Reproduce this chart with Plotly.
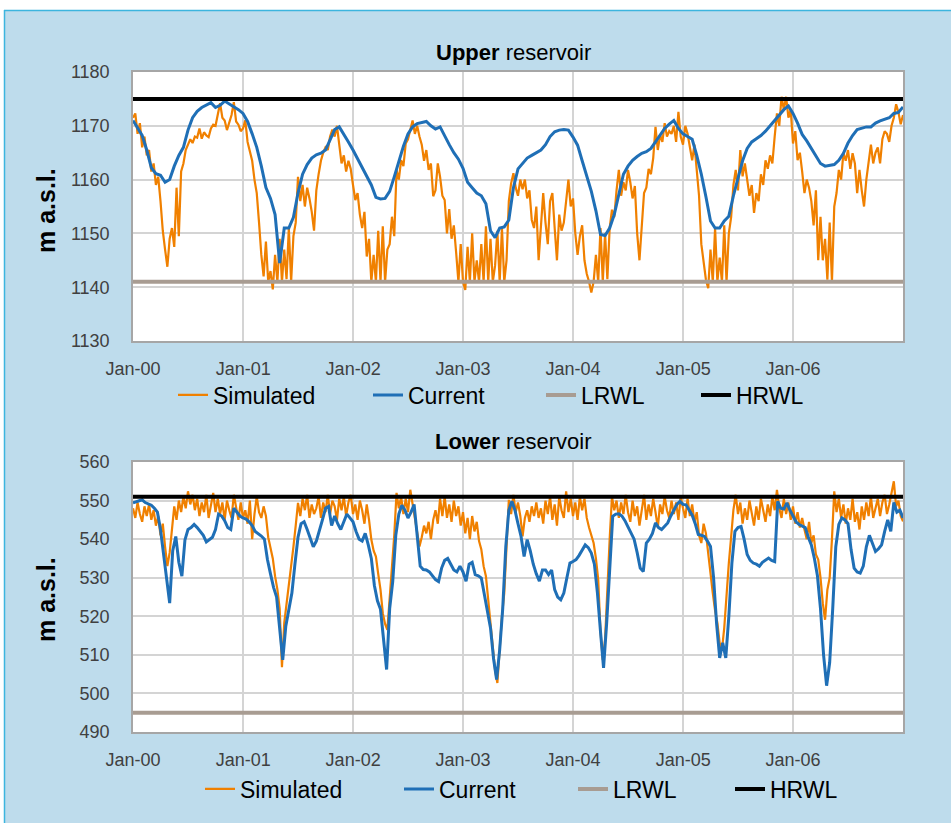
import pandas as pd
import plotly.graph_objects as go

# ---------------- DATA ----------------
years = [2000, 2001, 2002, 2003, 2004, 2005, 2006]
tick_labels = ["Jan-00", "Jan-01", "Jan-02", "Jan-03", "Jan-04", "Jan-05", "Jan-06"]
series_names = ["Simulated", "Current", "LRWL", "HRWL"]

upper_lrwl = 1141.0
upper_hrwl = 1175.0
lower_lrwl = 495.0
lower_hrwl = 551.0

# Upper reservoir, simulated (approx. weekly readings, 4 per month, Jan-2000 .. Jan-2007)
upper_simulated = [
    1171.5, 1172.3, 1168.5, 1170.5, 1166.0, 1168.0, 1164.5, 1165.5,
    1161.5, 1163.0, 1159.0, 1160.5, 1156.0, 1150.5, 1147.0, 1143.8,
    1149.0, 1151.0, 1147.5, 1158.5, 1149.5, 1161.5, 1163.0, 1165.5,
    1166.5, 1167.5, 1166.8, 1168.0, 1167.8, 1169.5, 1167.6, 1168.8,
    1168.2, 1167.9, 1169.5, 1170.2, 1170.0, 1172.0, 1174.2, 1171.5,
    1171.0, 1169.2, 1170.8, 1172.0, 1174.4, 1170.8, 1170.2, 1169.0,
    # 2001
    1169.5, 1171.0, 1167.0, 1165.0, 1163.5, 1160.0, 1157.5, 1152.0,
    1146.0, 1142.0, 1148.5, 1141.0, 1143.0, 1139.6, 1146.0, 1141.0,
    1149.0, 1141.0, 1147.0, 1141.5, 1151.0, 1141.0, 1149.5, 1152.0,
    1160.5, 1156.0, 1159.0, 1155.0, 1158.5, 1156.5, 1154.0, 1150.5,
    1158.0, 1161.0, 1163.5, 1165.0, 1166.0, 1165.5, 1168.0, 1169.3,
    1168.0, 1170.0, 1166.5, 1163.0, 1164.5, 1161.5, 1163.5, 1162.0,
    # 2002
    1159.0, 1156.2, 1157.5, 1153.5, 1151.0, 1154.0, 1145.7, 1149.0,
    1141.0, 1146.0, 1141.0, 1150.5, 1141.0, 1151.3, 1141.0, 1147.0,
    1148.0, 1153.1, 1149.5, 1161.8, 1160.0, 1163.6, 1162.5, 1166.7,
    1167.5, 1169.0, 1171.0, 1168.5, 1170.0, 1168.0, 1166.5, 1163.5,
    1165.5, 1161.8, 1163.0, 1156.9, 1158.0, 1163.0, 1160.5, 1157.0,
    1156.2, 1150.0, 1154.5, 1149.0, 1151.5, 1146.5, 1141.0, 1148.0,
    # 2003
    1141.0, 1139.5, 1147.5, 1141.0, 1150.0, 1141.0, 1145.0, 1141.0,
    1148.0, 1141.0, 1151.3, 1141.0, 1149.0, 1141.0, 1144.0, 1150.5,
    1141.0, 1151.0, 1141.0, 1145.0, 1156.0, 1159.3, 1161.2, 1158.5,
    1157.0, 1160.0, 1158.2, 1160.0, 1156.5, 1158.0, 1152.5, 1151.0,
    1155.0, 1145.0, 1152.0, 1157.5, 1152.0, 1148.0, 1156.0, 1157.5,
    1151.0, 1145.0, 1153.5, 1150.5, 1152.0, 1156.0, 1160.0, 1155.0,
    # 2004
    1156.5, 1150.0, 1146.0, 1149.5, 1151.5, 1145.0, 1142.5, 1141.0,
    1139.0, 1141.0, 1146.0, 1141.0, 1151.0, 1141.0, 1150.0, 1141.5,
    1151.0, 1154.4, 1153.0, 1158.0, 1161.8, 1157.0, 1159.5, 1158.0,
    1161.8, 1159.5, 1156.5, 1158.8, 1150.0, 1145.0, 1151.0, 1157.5,
    1158.5, 1162.0, 1161.0, 1164.0, 1169.8, 1165.5, 1168.3, 1167.0,
    1170.5, 1168.0, 1169.0, 1168.5, 1170.0, 1167.0, 1172.6, 1168.0,
    # 2005
    1166.5, 1170.0, 1168.5, 1166.0, 1163.6, 1166.5, 1161.0, 1157.0,
    1148.0, 1144.5, 1141.4, 1139.8, 1147.0, 1141.0, 1151.0, 1141.0,
    1145.5, 1141.0, 1151.5, 1141.0, 1150.0, 1153.0, 1159.0, 1161.8,
    1158.0, 1165.5, 1160.6, 1163.0, 1160.0, 1157.0, 1159.0, 1153.8,
    1157.5, 1156.0, 1161.0, 1159.0, 1163.6, 1162.0, 1164.5, 1163.0,
    1168.0, 1172.3, 1170.0, 1175.4, 1173.0, 1175.4, 1171.5, 1173.0,
    # 2006
    1166.7, 1169.0, 1163.6, 1165.0, 1161.5, 1157.5, 1160.0, 1158.5,
    1156.0, 1151.5, 1158.0, 1145.0, 1153.1, 1145.0, 1149.0, 1141.4,
    1152.0, 1141.0, 1155.0, 1157.5, 1161.8, 1160.0, 1165.0, 1163.5,
    1165.5, 1162.0, 1164.9, 1163.0, 1157.5, 1161.8, 1158.0, 1155.0,
    1160.0, 1163.6, 1166.5, 1163.0, 1165.0, 1166.0, 1163.0, 1167.5,
    1169.0, 1168.5, 1167.0, 1170.0, 1171.5, 1174.0, 1172.5, 1170.3,
    1172.0,
]

# Upper reservoir, current operation (2 readings per month)
upper_current = [
    1171.0, 1169.5, 1168.2, 1165.5, 1162.2, 1161.1, 1160.8, 1159.5,
    1160.0, 1162.5, 1164.5, 1166.0, 1169.2, 1171.5, 1172.7, 1173.4,
    1173.8, 1174.3, 1173.4, 1173.8, 1174.6, 1174.1, 1173.6, 1173.0,
    # 2001
    1172.3, 1170.8, 1168.5, 1166.0, 1162.5, 1158.5, 1156.5, 1153.5,
    1144.5, 1151.0, 1151.0, 1153.0, 1157.5, 1161.0, 1162.8, 1164.0,
    1164.6, 1164.9, 1165.5, 1167.5, 1169.3, 1169.8, 1168.5, 1167.0,
    # 2002
    1165.5, 1163.8, 1162.2, 1160.5, 1159.0, 1156.7, 1156.4, 1156.5,
    1157.8, 1160.5, 1163.5, 1166.2, 1168.5, 1169.8, 1170.4, 1170.6,
    1170.8, 1170.0, 1169.4, 1169.8, 1168.0, 1166.5, 1165.0, 1163.8,
    # 2003
    1162.1, 1159.5, 1158.5, 1157.5, 1157.0, 1155.5, 1150.5, 1149.2,
    1151.0, 1151.2, 1152.5, 1158.5, 1162.0, 1163.0, 1164.0, 1164.5,
    1165.0, 1165.5, 1166.5, 1168.0, 1168.9, 1169.2, 1169.3, 1169.2,
    # 2004
    1167.9, 1166.4, 1163.5, 1160.5, 1157.8, 1154.2, 1149.8, 1149.6,
    1151.0, 1153.5, 1157.5, 1161.0, 1162.5, 1163.6, 1164.3, 1164.9,
    1165.2, 1165.8, 1167.0, 1168.3, 1169.5, 1170.3, 1171.0, 1169.5,
    # 2005
    1168.5, 1168.0, 1167.5, 1164.5, 1161.0, 1156.8, 1152.3, 1151.0,
    1151.0, 1152.3, 1153.2, 1157.0, 1160.0, 1163.5, 1165.8, 1167.0,
    1167.6, 1168.2, 1169.0, 1170.0, 1171.0, 1172.0, 1173.0, 1173.7,
    # 2006
    1172.3, 1170.5, 1168.4, 1167.2, 1165.8, 1164.3, 1163.0, 1162.5,
    1162.6, 1162.8, 1163.6, 1164.9, 1166.8, 1168.2, 1169.3, 1169.6,
    1169.8, 1169.8, 1170.5, 1170.9, 1171.2, 1171.5, 1172.3, 1172.5,
    1173.5,
]

# Lower reservoir, simulated (4 readings per month)
lower_simulated = [
    548.0, 545.5, 549.5, 546.5, 544.5, 548.5, 546.0, 549.0,
    545.0, 547.5, 543.5, 546.0, 541.0, 544.0, 538.0, 533.0,
    536.5, 542.0, 548.5, 545.0, 550.0, 547.0, 551.0, 548.0,
    552.4, 549.0, 551.5, 547.5, 550.5, 546.0, 549.5, 547.0,
    551.5, 545.5, 549.0, 552.0, 547.0, 550.5, 546.5, 549.5,
    545.0, 550.0, 547.5, 545.5, 551.5, 548.0, 545.0, 549.5,
    # 2001
    545.5, 547.5, 544.0, 550.0, 540.0, 546.5, 551.0, 547.0,
    545.5, 548.5, 546.0, 540.5, 538.0, 535.0, 530.4, 527.0,
    522.0, 506.8, 518.3, 523.0, 528.6, 532.0, 538.0, 543.5,
    549.4, 546.0, 550.5, 547.5, 551.5, 545.5, 549.0, 546.5,
    548.0, 551.0, 545.5, 549.5, 547.0, 551.5, 546.5, 550.0,
    548.5, 545.0, 550.5, 547.5, 551.0, 546.0, 549.5, 551.5,
    # 2002
    546.5, 549.0, 545.0, 550.0, 547.5, 544.0, 549.0, 545.0,
    539.9, 537.0, 535.5, 531.0, 526.9, 520.8, 518.0, 516.5,
    524.0, 532.0, 541.0, 552.0, 548.0, 551.0, 546.5, 550.5,
    547.0, 552.8, 549.0, 545.0, 541.0, 538.1, 540.5, 543.5,
    541.5, 544.5, 540.0, 545.0, 547.5, 544.0, 550.5, 546.0,
    551.0, 545.5, 549.0, 544.5, 550.0, 546.0, 548.5, 543.5,
    # 2003
    547.0, 541.5, 545.5, 540.0, 546.0, 542.0, 544.5, 539.5,
    537.3, 533.0, 530.4, 524.5, 518.0, 511.3, 506.0, 502.7,
    512.0, 520.0, 526.0, 540.0, 550.2, 546.5, 551.5, 547.0,
    549.5, 546.0, 540.7, 545.5, 547.5, 544.5, 548.5, 546.0,
    549.5, 545.5, 548.0, 544.0, 550.0, 546.5, 551.0, 545.0,
    549.0, 543.5, 551.0, 547.5, 545.5, 552.4, 547.0, 550.5,
    # 2004
    546.0, 549.5, 545.0, 551.0, 547.5, 550.5, 545.5, 543.0,
    541.0, 539.0, 535.0, 529.5, 516.0, 508.7, 514.0, 529.0,
    540.0, 551.0, 547.5, 550.0, 545.5, 549.5, 546.5, 551.5,
    547.0, 544.5, 550.0, 546.0, 548.5, 543.5, 547.5, 551.5,
    545.0, 549.0, 546.0, 550.5, 547.0, 543.0, 549.0, 546.5,
    551.0, 547.5, 545.5, 550.0, 546.5, 549.5, 545.0, 551.0,
    # 2005
    548.0, 545.5, 550.5, 546.0, 549.0, 544.5, 547.0, 541.0,
    539.0, 544.0, 541.5, 536.0, 530.4, 526.0, 521.5, 518.3,
    513.1, 511.3, 517.0, 526.0, 533.8, 540.5, 547.6, 551.5,
    546.5, 549.5, 544.0, 548.0, 545.0, 550.0, 546.5, 543.5,
    548.5, 545.0, 550.5, 547.0, 544.5, 549.0, 546.0, 551.0,
    547.5, 552.8, 548.0, 545.5, 550.5, 546.5, 549.5, 545.0,
    # 2006
    548.5, 544.0, 547.0, 543.0, 545.5, 542.5, 540.0, 544.5,
    539.0, 541.0, 536.0, 534.7, 530.0, 523.4, 519.1, 526.9,
    530.0, 540.0, 552.4, 547.0, 550.5, 545.5, 549.0, 544.0,
    548.0, 545.0, 550.5, 544.5, 547.0, 542.5, 548.5, 545.0,
    549.5, 546.0, 551.0, 545.5, 548.0, 550.5, 546.0, 549.5,
    551.5, 546.5, 549.0, 552.0, 555.0, 548.5, 550.0, 546.0,
    544.6,
]

# Lower reservoir, current operation (3 readings per month)
lower_current = [
    549.4, 549.7, 550.0, 550.2, 549.5, 549.2, 548.8, 548.0, 547.0,
    542.5, 536.0, 529.5, 523.4, 537.0, 540.7, 534.0, 530.4, 539.8,
    542.5, 543.0, 543.8, 543.0, 542.0, 541.0, 539.3, 540.0, 540.5,
    542.5, 546.5, 546.0, 544.8, 543.0, 542.5, 548.0, 547.0, 546.0,
    # 2001
    545.5, 545.2, 544.5, 543.5, 542.0, 541.5, 540.8, 540.0, 534.7,
    531.0, 527.5, 525.0, 517.0, 508.7, 517.4, 521.5, 526.0, 533.5,
    540.5, 544.0, 544.5, 542.5, 540.0, 538.0, 539.5, 542.0, 545.0,
    548.0, 548.5, 543.5, 546.0, 544.0, 542.5, 544.5, 546.5, 545.5,
    # 2002
    544.5, 542.0, 540.0, 539.5, 541.5, 538.5, 535.0, 528.0, 524.0,
    521.8, 513.0, 506.2, 522.0, 529.0, 541.0, 546.5, 548.8, 547.5,
    545.5, 547.0, 549.0, 540.0, 533.0, 532.1, 532.0, 531.5, 530.5,
    529.5, 529.0, 532.5, 534.5, 535.0, 533.5, 532.0, 531.5, 533.0,
    # 2003
    531.5, 529.1, 533.5, 534.0, 530.8, 530.5, 529.9, 525.5, 521.7,
    517.0, 509.0, 503.6, 511.3, 522.0, 538.0, 547.5, 549.8, 547.5,
    544.0, 540.7, 535.5, 539.9, 537.0, 533.5, 531.0, 529.1, 532.0,
    532.0, 530.8, 532.0, 526.9, 525.0, 524.3, 526.0, 530.0, 533.8,
    # 2004
    534.2, 534.7, 535.8, 537.0, 538.5, 537.8, 536.4, 533.5, 526.0,
    516.0, 506.6, 518.0, 533.0, 545.9, 546.5, 546.6, 546.0, 544.8,
    543.2, 541.5, 540.0, 536.5, 532.5, 531.6, 539.0, 540.0, 541.5,
    544.2, 543.0, 542.5, 543.5, 544.2, 546.0, 547.6, 549.0, 549.8,
    # 2005
    549.0, 548.9, 547.5, 546.2, 544.0, 541.2, 541.0, 540.7, 539.5,
    538.1, 530.0, 518.0, 509.2, 513.1, 509.2, 520.0, 533.8, 542.0,
    543.0, 543.3, 540.0, 536.0, 534.5, 533.8, 533.5, 533.0, 534.0,
    534.5, 535.1, 534.5, 534.2, 549.8, 548.0, 547.8, 549.4, 547.5,
    # 2006
    545.9, 544.5, 543.8, 543.5, 543.0, 540.5, 538.5, 535.0, 530.5,
    522.0, 510.0, 502.0, 508.0, 522.0, 538.0, 543.8, 545.5, 545.0,
    544.0, 537.3, 532.5, 531.5, 531.2, 533.0, 538.0, 541.0, 539.0,
    536.8, 537.5, 538.5, 542.0, 545.0, 542.0, 549.5, 547.0, 547.5,
    545.5,
]

# ---------------- STYLE / LAYOUT ----------------
W, H = 951, 823
ML, MR, MT, MB = 133, 48, 72, 91
PW, PH = W - ML - MR, H - MT - MB


def px_x(px):
    return (px - ML) / PW


def px_y(py):
    return (H - MB - py) / PH


START, END = "2000-01-01", "2007-01-01"


def dates_for(values):
    return pd.date_range(START, END, periods=len(values))


C_SIM = "#F08000"
C_CUR = "#1F6FB6"
C_LR = "#A89C92"
C_HR = "#000000"
BG = "#BEDCEC"
TICK_FONT = dict(family="Liberation Sans, Arial, sans-serif", size=18, color="#404040")
LEG_FONT = dict(family="Liberation Sans, Arial, sans-serif", size=23, color="#000000")

# legend slot positions (left edge of the line sample, px) and vertical centre (px)
upper_leg_x = [180, 375, 548, 703]
lower_leg_x = [207, 406, 580, 737]
upper_leg_y = 395
lower_leg_y = 789

fig = go.Figure()

panels = [
    ("x", "y", upper_simulated, upper_current, upper_lrwl, upper_hrwl, upper_leg_x, upper_leg_y, 1),
    ("x2", "y2", lower_simulated, lower_current, lower_lrwl, lower_hrwl, lower_leg_x, lower_leg_y, 5),
]
legends = {}
for xref, yref, sim, cur, lr, hr, legx, legy, lstart in panels:
    traces = [
        (dates_for(sim), sim, C_SIM, 2.2),
        (dates_for(cur), cur, C_CUR, 3),
        ([START, END], [lr, lr], C_LR, 4),
        ([START, END], [hr, hr], C_HR, 4),
    ]
    for i, (xs, ys, col, lw) in enumerate(traces):
        lname = "legend" if lstart + i == 1 else f"legend{lstart + i}"
        fig.add_trace(go.Scatter(x=xs, y=ys, mode="lines", name=series_names[i],
                                 line=dict(color=col, width=lw), xaxis=xref, yaxis=yref,
                                 legend=lname))
        legends[lname] = dict(orientation="h", x=px_x(legx[i] - 7), y=px_y(legy),
                              xanchor="left", yanchor="middle", font=LEG_FONT,
                              bgcolor="rgba(0,0,0,0)", borderwidth=0)

tickvals = [f"{y}-01-01" for y in years]
xaxis_common = dict(type="date", range=[START, END], tickvals=tickvals, ticktext=tick_labels,
                    showgrid=True, gridcolor="#D4D4D4", gridwidth=1.5, showline=True,
                    linecolor="#A6A6A6", linewidth=1.5, mirror=True, ticks="",
                    tickfont=TICK_FONT, ticklabelstandoff=11, zeroline=False)
yaxis_common = dict(showgrid=True, gridcolor="#D4D4D4", gridwidth=1.5, showline=True,
                    linecolor="#A6A6A6", linewidth=1.5, mirror=True, ticks="",
                    tickfont=TICK_FONT, ticklabelstandoff=18, zeroline=False)

fig.update_layout(
    width=W, height=H,
    margin=dict(l=ML, r=MR, t=MT, b=MB),
    paper_bgcolor=BG, plot_bgcolor="white",
    showlegend=True,
    xaxis=dict(xaxis_common, domain=[0, 1], anchor="y"),
    yaxis=dict(yaxis_common, domain=[px_y(341), 1.0], range=[1130, 1180], dtick=10, anchor="x"),
    xaxis2=dict(xaxis_common, domain=[0, 1], anchor="y2"),
    yaxis2=dict(yaxis_common, domain=[0, px_y(462)], range=[490, 560], dtick=10, anchor="x2"),
    font=dict(family="Liberation Sans, Arial, sans-serif"),
    **legends,
)

TITLE_FONT = dict(family="Liberation Sans, Arial, sans-serif", size=22, color="#000000")
fig.add_annotation(text="<b>Upper</b> reservoir", xref="paper", yref="paper",
                   x=px_x(513), y=px_y(52), showarrow=False, font=TITLE_FONT,
                   xanchor="center", yanchor="middle")
fig.add_annotation(text="<b>Lower</b> reservoir", xref="paper", yref="paper",
                   x=px_x(513), y=px_y(442), showarrow=False, font=TITLE_FONT,
                   xanchor="center", yanchor="middle")
YT_FONT = dict(family="Liberation Sans, Arial, sans-serif", size=25, color="#000000")
for yc in [211, 600]:
    fig.add_annotation(text="<b>m a.s.l.</b>", xref="paper", yref="paper",
                       x=px_x(46), y=px_y(yc), showarrow=False, textangle=-90,
                       font=YT_FONT, xanchor="center", yanchor="middle")

# white margin strips and cyan frame border
fig.add_shape(type="rect", xref="paper", yref="paper", x0=px_x(0), x1=px_x(W), y0=px_y(10), y1=px_y(0),
              fillcolor="white", line=dict(width=0), layer="above")
fig.add_shape(type="rect", xref="paper", yref="paper", x0=px_x(0), x1=px_x(4), y0=px_y(H), y1=px_y(0),
              fillcolor="white", line=dict(width=0), layer="above")
fig.add_shape(type="line", xref="paper", yref="paper", x0=px_x(4), x1=px_x(W), y0=px_y(10.5), y1=px_y(10.5),
              line=dict(color="#3DB5DE", width=1.5), layer="above")
fig.add_shape(type="line", xref="paper", yref="paper", x0=px_x(4.5), x1=px_x(4.5), y0=px_y(10), y1=px_y(H),
              line=dict(color="#3DB5DE", width=1.5), layer="above")

fig.write_html("out.html", config={"displayModeBar": False},
               post_script="document.body.style.margin='0px';")
